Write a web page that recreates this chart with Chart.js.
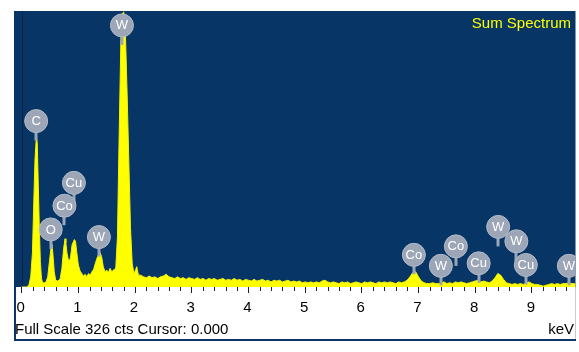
<!DOCTYPE html>
<html><head><meta charset="utf-8">
<script src="https://cdn.jsdelivr.net/npm/chart.js@4.4.0/dist/chart.umd.min.js"></script>
<style>html,body{margin:0;padding:0;background:#fff;}#wrap{width:579px;height:352px;position:relative;}</style>
</head><body><div id="wrap"><canvas id="c" width="579" height="352"></canvas></div>
<script>
// Spectrum (keV, counts)
const energies = [
 0.00,0.10,0.13,0.16,0.19,0.21,0.235,0.26,0.275,0.29,
 0.31,0.33,0.35,0.37,0.40,0.43,0.46,0.49,0.52,0.535,
 0.55,0.575,0.60,0.63,0.66,0.68,0.71,0.74,0.765,0.78,
 0.80,0.83,0.86,0.89,0.93,0.95,0.97,1.00,1.03,1.06,
 1.09,1.12,1.15,1.18,1.21,1.24,1.27,1.30,1.34,1.38,
 1.41,1.44,1.47,1.50,1.53,1.56,1.59,1.62,1.66,1.69,
 1.72,1.75,1.775,1.80,1.83,1.86,1.89,1.92,1.95,1.98,
 2.01,2.03,2.06,
 2.10,2.15,2.20,2.25,2.30,2.35,2.40,2.45,2.50,2.55,
 2.60,2.65,2.70,2.75,2.80,2.85,2.90,2.95,3.00,3.05,
 3.10,3.15,3.20,3.25,3.30,3.35,3.40,3.45,3.50,3.55,
 3.60,3.65,3.70,3.75,3.80,3.85,3.90,3.95,4.00,4.05,
 4.10,4.15,4.20,4.25,4.30,4.35,4.40,4.45,4.50,4.55,
 4.60,4.65,4.70,4.75,4.80,4.85,4.90,4.95,5.00,5.05,
 5.10,5.15,5.20,5.25,5.30,5.35,5.40,5.45,5.50,5.55,
 5.60,5.65,5.70,5.75,5.80,5.85,5.90,5.95,6.00,6.05,
 6.10,6.15,6.20,6.25,6.30,6.35,6.40,6.45,6.50,6.55,
 6.60,6.65,6.70,6.75,6.80,6.85,6.90,6.95,7.00,7.05,
 7.10,7.15,7.20,7.25,7.30,7.35,7.40,7.45,7.50,7.55,
 7.60,7.65,7.70,7.75,7.80,7.85,7.90,7.95,8.00,8.05,
 8.10,8.15,8.20,8.25,8.30,8.35,8.40,8.45,8.50,8.55,
 8.60,8.65,8.70,8.75,8.80,8.85,8.90,8.95,9.00,9.05,
 9.10,9.15,9.20,9.25,9.30,9.35,9.40,9.45,9.50,9.55,
 9.60,9.65,9.70,9.75,9.77
];
const counts = [
 0,0,3,12,40,90,150,178,170,130,
 75,30,10,5,5,6,12,30,48,50,
 40,18,8,7,8,10,22,45,57,52,
 40,30,34,50,56,54,42,26,19,16,
 13,15,12,16,14,18,21,28,36,41,
 36,24,18,20,17,22,18,20,22,60,
 180,290,322,325,300,230,150,70,28,16,
 20,24,14,
 14,12,11,13,11,12,10,12,13,15,
 12,11,10,12,10,11,9,11,10,9,
 11,9,10,8,10,9,10,8,9,10,
 8,9,8,10,8,9,7,9,8,7,
 9,7,8,9,7,8,6,8,7,8,
 6,7,8,6,7,6,7,5,6,5,
 6,5,6,5,7,8,6,5,6,5,
 4,6,5,6,4,5,6,5,4,6,
 5,6,5,4,6,5,6,5,6,5,
 4,6,5,6,8,12,17,18,12,7,
 5,4,4,5,4,4,5,6,4,5,
 4,6,5,6,5,4,5,6,7,8,
 6,7,6,5,7,11,16,14,9,5,
 4,3,4,3,4,3,5,6,4,3,
 3,2,1,2,3,4,3,4,3,4,
 4,5,4,4,3
];
const tickValues = [0,1,2,3,4,5,6,7,8,9];
const tickLabels = ['0','1','2','3','4','5','6','7','8','9'];
const minorStep = 0.2;
// Peak markers: element, keV, marker height (counts)
const peakNames  = ['W','C','Cu','Co','O','W','Co','W','Co','Cu','W','W','Cu','W'];
const peakKeV    = [1.769,0.256,0.922,0.755,0.513,1.363,6.919,7.395,7.660,8.062,8.406,8.727,8.894,9.653];
const peakHeight = [309,196,123,96,68,59,38,25,48,28,71,54,26,25];
const fullScale = 326;
const xMin = -0.135, xMax = 9.77;
const titleText = 'Sum Spectrum';
const infoText = 'Full Scale 326 cts Cursor: 0.000';
const unitText = 'keV';

const BLUE = '#063566';
const FONT = '"Liberation Sans", Arial, sans-serif';

const bgPlugin = {
  id: 'bg',
  beforeDraw(chart) {
    const {ctx, chartArea: a, scales} = chart;
    ctx.save();
    ctx.fillStyle = BLUE;
    ctx.fillRect(a.left, a.top, a.right - a.left, a.bottom - a.top);
    const x0 = Math.round(scales.x.getPixelForValue(0)) + 0.5;
    ctx.strokeStyle = '#0c2240';
    ctx.lineWidth = 1;
    ctx.beginPath(); ctx.moveTo(x0, a.top); ctx.lineTo(x0, a.bottom); ctx.stroke();
    ctx.restore();
  }
};

const markerPlugin = {
  id: 'markers',
  afterDatasetsDraw(chart) {
    const {ctx, chartArea: a, scales} = chart;
    ctx.save();
    ctx.beginPath(); ctx.rect(a.left, a.top, a.right - a.left, a.bottom - a.top); ctx.clip();
    const r = 11.5;
    peakNames.forEach((name, i) => {
      const cx = scales.x.getPixelForValue(peakKeV[i]);
      const cy = scales.y.getPixelForValue(peakHeight[i]);
      ctx.fillStyle = '#9ca6b6';
      ctx.fillRect(Math.round(cx) - 1.5, cy + r - 1, 3, 9);
      ctx.beginPath(); ctx.arc(cx, cy, r, 0, Math.PI * 2);
      ctx.fillStyle = '#9ca6b6'; ctx.fill();
      ctx.strokeStyle = '#b3bbc8'; ctx.lineWidth = 1; ctx.stroke();
      ctx.fillStyle = '#ffffff';
      ctx.font = '13px ' + FONT;
      ctx.textAlign = 'center'; ctx.textBaseline = 'middle';
      ctx.fillText(name, cx, cy + 0.5);
    });
    ctx.restore();
  },
  afterDraw(chart) {
    const {ctx, chartArea: a, scales} = chart;
    ctx.save();
    // minor ticks
    ctx.strokeStyle = '#222'; ctx.lineWidth = 1;
    for (let k = 1; k * minorStep <= 9.6 + 1e-9; k++) {
      const v = k * minorStep;
      if (Math.abs(v - Math.round(v)) < 1e-6) continue;
      const x = Math.round(scales.x.getPixelForValue(v)) + 0.5;
      ctx.beginPath(); ctx.moveTo(x, a.bottom); ctx.lineTo(x, a.bottom + 4); ctx.stroke();
    }
    // frame
    ctx.fillStyle = '#0d3566';
    ctx.fillRect(14, a.bottom, 2, 341 - a.bottom);
    ctx.fillRect(14, 339, 562, 2);
    ctx.fillStyle = '#c6ccd6';
    ctx.fillRect(575, a.bottom, 1, 339 - a.bottom);
    // texts
    ctx.font = '15px ' + FONT;
    ctx.textBaseline = 'alphabetic';
    ctx.fillStyle = '#000';
    ctx.textAlign = 'left';
    ctx.fillText(infoText, 15, 334);
    ctx.textAlign = 'right';
    ctx.fillText(unitText, 574, 334);
    ctx.fillStyle = '#ffff00';
    ctx.font = '15px ' + FONT;
    ctx.fillText(titleText, 571, 28);
    ctx.restore();
  }
};

new Chart(document.getElementById('c'), {
  type: 'line',
  data: {
    datasets: [{
      data: energies.map((e, i) => ({x: e, y: counts[i]})),
      fill: 'origin',
      backgroundColor: '#ffff00',
      borderColor: '#f4f400',
      borderWidth: 1,
      pointRadius: 0,
      tension: 0
    }]
  },
  options: {
    responsive: false,
    animation: false,
    devicePixelRatio: 1,
    layout: {padding: {left: 14, right: 3.5, top: 11, bottom: 0}},
    plugins: {legend: {display: false}, tooltip: {enabled: false}},
    scales: {
      x: {
        type: 'linear', min: xMin, max: xMax,
        afterBuildTicks: s => { s.ticks = tickValues.map(v => ({value: v})); },
        afterFit: s => { s.height = 65; },
        grid: {drawOnChartArea: false, drawTicks: true, tickLength: 6, color: '#222', lineWidth: 1},
        border: {display: false},
        ticks: {
          callback: (v, i) => tickLabels[i],
          font: {family: FONT, size: 15}, color: '#000',
          padding: 6, labelOffset: -1, maxRotation: 0, autoSkip: false
        }
      },
      y: {display: false, min: 0, max: fullScale}
    }
  },
  plugins: [bgPlugin, markerPlugin]
});
</script></body></html>
